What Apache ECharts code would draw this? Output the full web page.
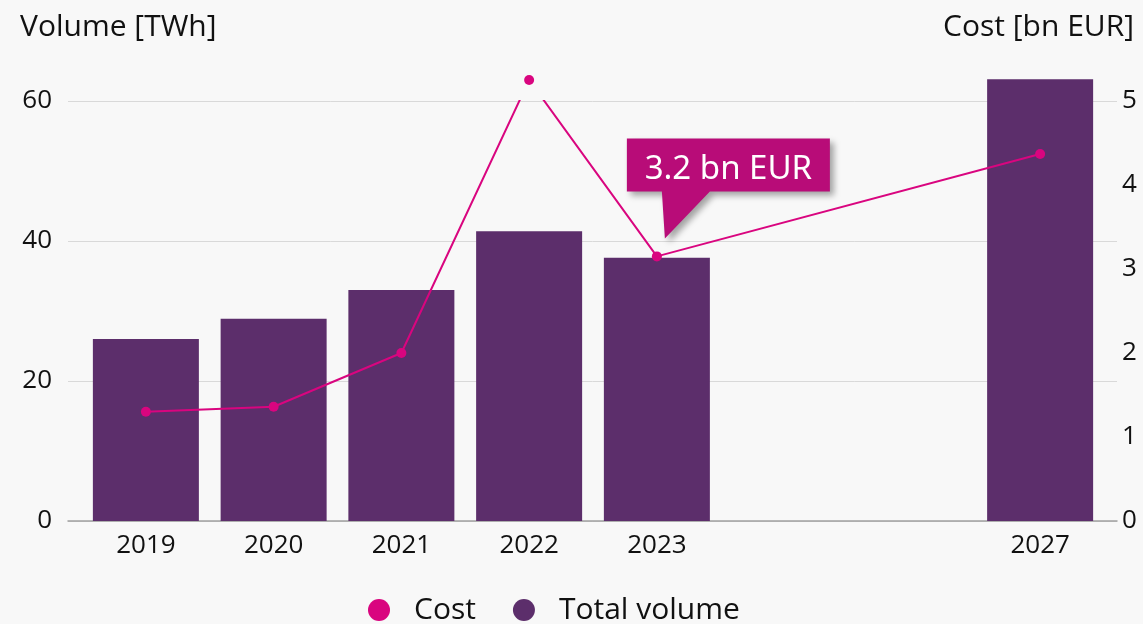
<!DOCTYPE html>
<html>
<head>
<meta charset="utf-8">
<script src="https://cdn.jsdelivr.net/npm/echarts@6/dist/echarts.min.js"></script>
<style>
  html, body { margin: 0; padding: 0; background: #f8f8f8; }
  #chart { width: 1143px; height: 624px; }
</style>
</head>
<body>
<div id="chart"></div>
<script>
// categories (two unlabeled slots between 2023 and 2027)
var years = ['2019', '2020', '2021', '2022', '2023', '', ' ', '2027'];
// Total volume [TWh]
var volume = [26, 28.9, 33, 41.4, 37.6, null, null, 63.1];
// Cost [bn EUR]
var cost = [1.3, 1.36, 2.0, 5.25, 3.15, null, null, 4.37];
var volumeTicks = [0, 20, 40, 60];
var costTicks = [0, 1, 2, 3, 4, 5];

var font = 'Open Sans';
var purple = '#5c2e6b';
var magenta = '#d9057f';

var myChart = echarts.init(document.getElementById('chart'));

var option = {
    backgroundColor: '#f8f8f8',
    textStyle: { fontFamily: font },
    title: [
        { text: 'Volume [TWh]', left: 15, top: 7,
          textStyle: { fontFamily: font, fontSize: 30, fontWeight: 'normal', color: '#111' } },
        { text: 'Cost [bn EUR]', right: 4, top: 7,
          textStyle: { fontFamily: font, fontSize: 30, fontWeight: 'normal', color: '#111' } }
    ],
    legend: {
        data: ['Cost', 'Total volume'],
        left: 363,
        top: 590,
        icon: 'circle',
        itemWidth: 60,
        itemHeight: 22,
        itemGap: 37,
        textStyle: { fontFamily: font, fontSize: 30, color: '#111' }
    },
    grid: [
        // frame grid: split lines, bottom axis line, both label columns
        { left: 68, right: 26, top: 101, bottom: 103, outerBoundsMode: 'none' },
        // data grid
        { left: 82, right: 39, top: 101, bottom: 103, outerBoundsMode: 'none' }
    ],
    xAxis: [
        {
            type: 'category', gridIndex: 0, data: years,
            axisLine: { lineStyle: { color: '#a0a0a0', width: 1.5 } },
            axisTick: { show: false },
            axisLabel: { show: false }
        },
        {
            type: 'category', gridIndex: 1, data: years,
            axisLine: { show: false },
            axisTick: { show: false },
            axisLabel: { fontFamily: font, fontSize: 26, color: '#111', margin: 12, interval: 0 }
        }
    ],
    yAxis: [
        {
            type: 'value', gridIndex: 0, min: volumeTicks[0], max: volumeTicks[volumeTicks.length - 1], interval: 20,
            axisLine: { show: false },
            axisTick: { show: false },
            splitLine: { lineStyle: { color: '#d9d9d9', width: 1 } },
            axisLabel: { fontFamily: font, fontSize: 26, color: '#111', margin: 16 }
        },
        {
            type: 'value', gridIndex: 0, position: 'right', min: costTicks[0], max: costTicks[costTicks.length - 1], interval: 1,
            axisLine: { show: false },
            axisTick: { show: false },
            splitLine: { show: false },
            axisLabel: { fontFamily: font, fontSize: 26, color: '#111', margin: 5, hideOverlap: false }
        },
        {
            type: 'value', gridIndex: 1, min: volumeTicks[0], max: volumeTicks[volumeTicks.length - 1], interval: 20,
            show: false
        },
        {
            type: 'value', gridIndex: 1, position: 'right', min: costTicks[0], max: costTicks[costTicks.length - 1], interval: 1,
            show: false
        }
    ],
    series: [
        {
            name: 'Total volume',
            type: 'bar',
            xAxisIndex: 1,
            yAxisIndex: 2,
            barWidth: 106,
            clip: false,
            itemStyle: { color: purple },
            data: volume,
            z: 2
        },
        {
            name: 'Cost',
            type: 'line',
            xAxisIndex: 1,
            yAxisIndex: 3,
            clip: false,
            connectNulls: true,
            symbol: 'circle',
            symbolSize: 10,
            lineStyle: { color: magenta, width: 2 },
            itemStyle: { color: magenta },
            data: cost,
            z: 3,
            markPoint: {
                symbol: 'path://M0 0 L203 0 L203 53 L83 53 L38 100 L35 53 L0 53 Z',
                symbolSize: [203, 100],
                symbolOffset: [71.5, -68],
                itemStyle: {
                    color: '#b80c78',
                    shadowBlur: 6,
                    shadowOffsetX: 4,
                    shadowOffsetY: 4,
                    shadowColor: 'rgba(0,0,0,0.35)'
                },
                label: {
                    show: true,
                    position: 'inside',
                    offset: [0, -19],
                    formatter: '3.2 bn EUR',
                    fontFamily: 'Noto Sans',
                    fontSize: 33,
                    color: '#fff'
                },
                data: [{ coord: [years[4], cost[4]] }]
            }
        }
    ]
};

myChart.setOption(option);
</script>
</body>
</html>
